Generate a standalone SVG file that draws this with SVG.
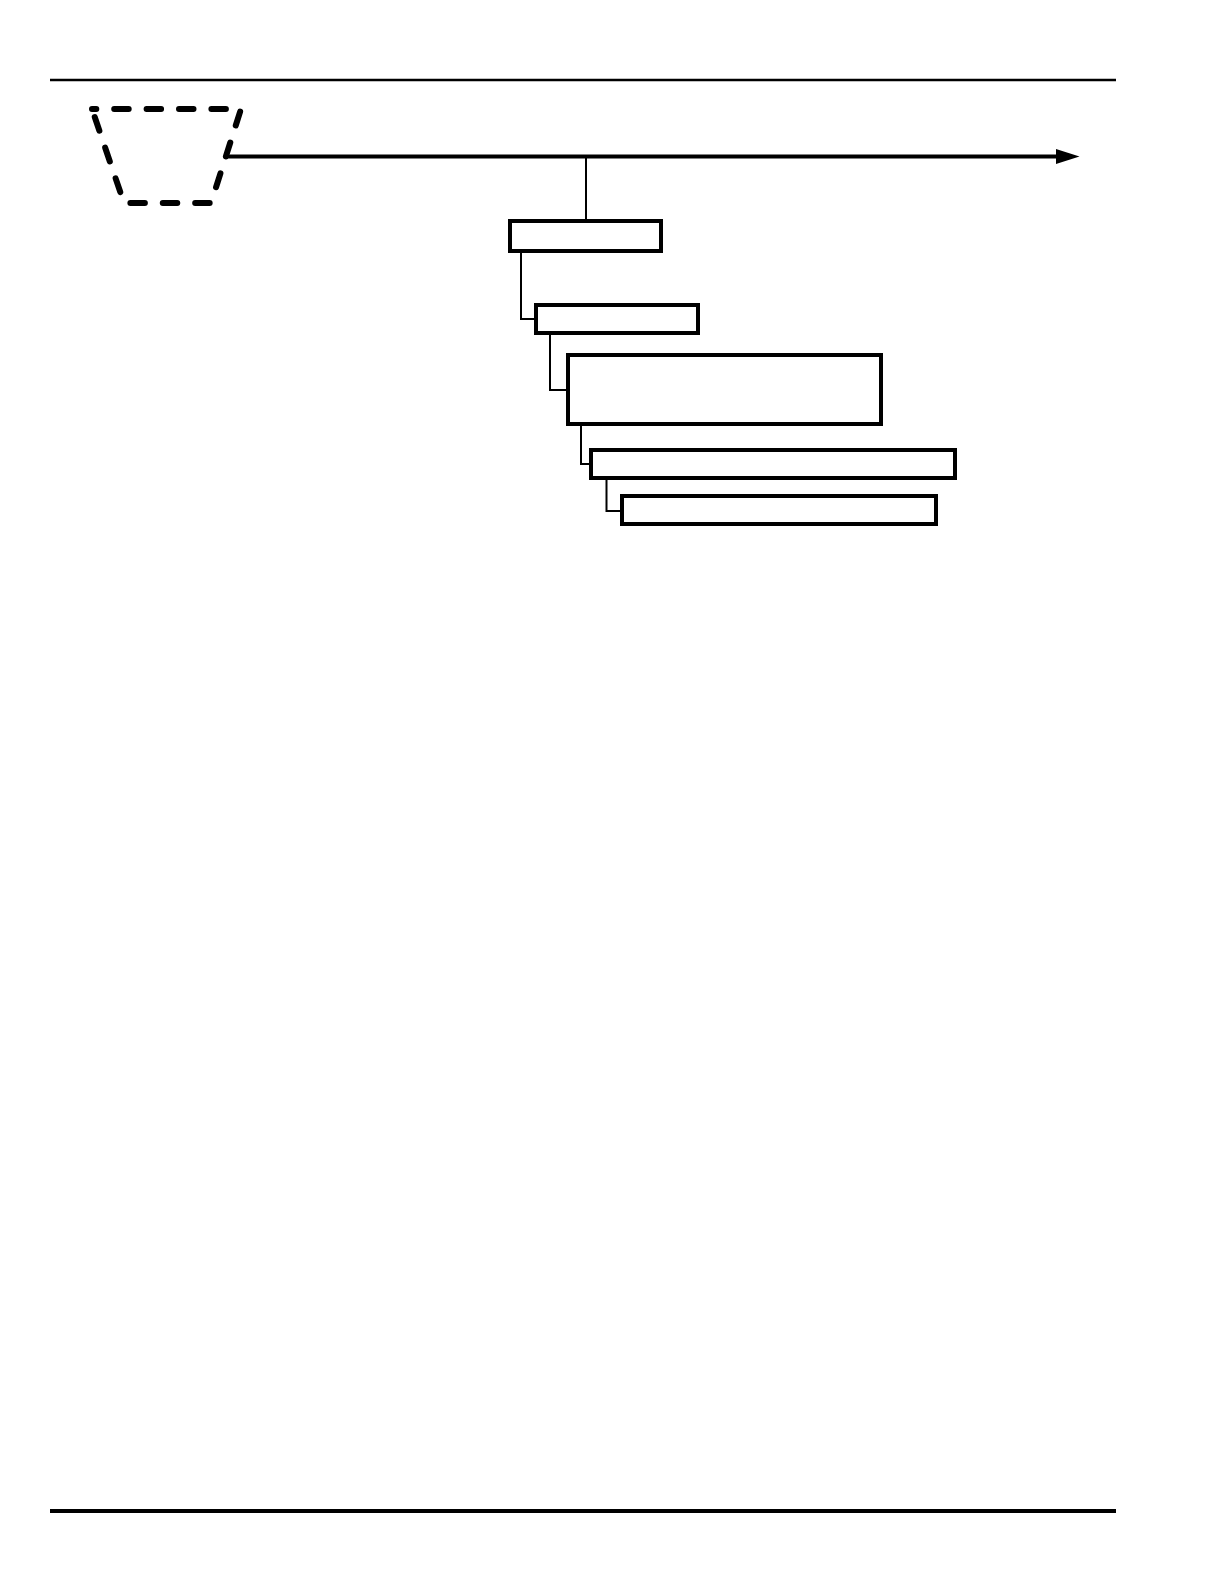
<svg xmlns="http://www.w3.org/2000/svg" width="1224" height="1584" viewBox="0 0 1224 1584">
<style>
.box{fill:#fff;stroke:#000;stroke-width:4}
.conn{fill:none;stroke:#000;stroke-width:2}
.rule{stroke:#000}
</style>
<rect x="0" y="0" width="1224" height="1584" fill="#fff"/>
<g id="rules">
<line class="rule" x1="50" y1="80" x2="1116" y2="80" stroke-width="2.5"/>
<line class="rule" x1="50" y1="1511" x2="1116" y2="1511" stroke-width="4"/>
</g>
<g id="source">
<path d="M92,109 L241,109 L211,203 L124,203 Z" fill="none" stroke="#000" stroke-width="6" stroke-linecap="round" stroke-linejoin="round" stroke-dasharray="14.5 17.9" stroke-dashoffset="10.2"/>
</g>
<g id="connectors">
<line x1="227" y1="156.5" x2="1057" y2="156.5" stroke="#000" stroke-width="4"/>
<polygon points="1056,149 1079.5,156.5 1056,164" fill="#000"/>
<path class="conn" d="M586,156.5 V221"/>
<path class="conn" d="M521,253 V319 H536"/>
<path class="conn" d="M550,335 V390 H568"/>
<path class="conn" d="M581,426 V464 H591"/>
<path class="conn" d="M606.5,480 V511 H622"/>
</g>
<g id="n1"><rect class="box" x="510" y="221" width="151" height="30"/></g>
<g id="n2"><rect class="box" x="536" y="305" width="162" height="28"/></g>
<g id="n3"><rect class="box" x="568" y="355" width="313" height="69"/></g>
<g id="n4"><rect class="box" x="591" y="450" width="364" height="28"/></g>
<g id="n5"><rect class="box" x="622" y="496" width="314" height="28"/></g>
</svg>
